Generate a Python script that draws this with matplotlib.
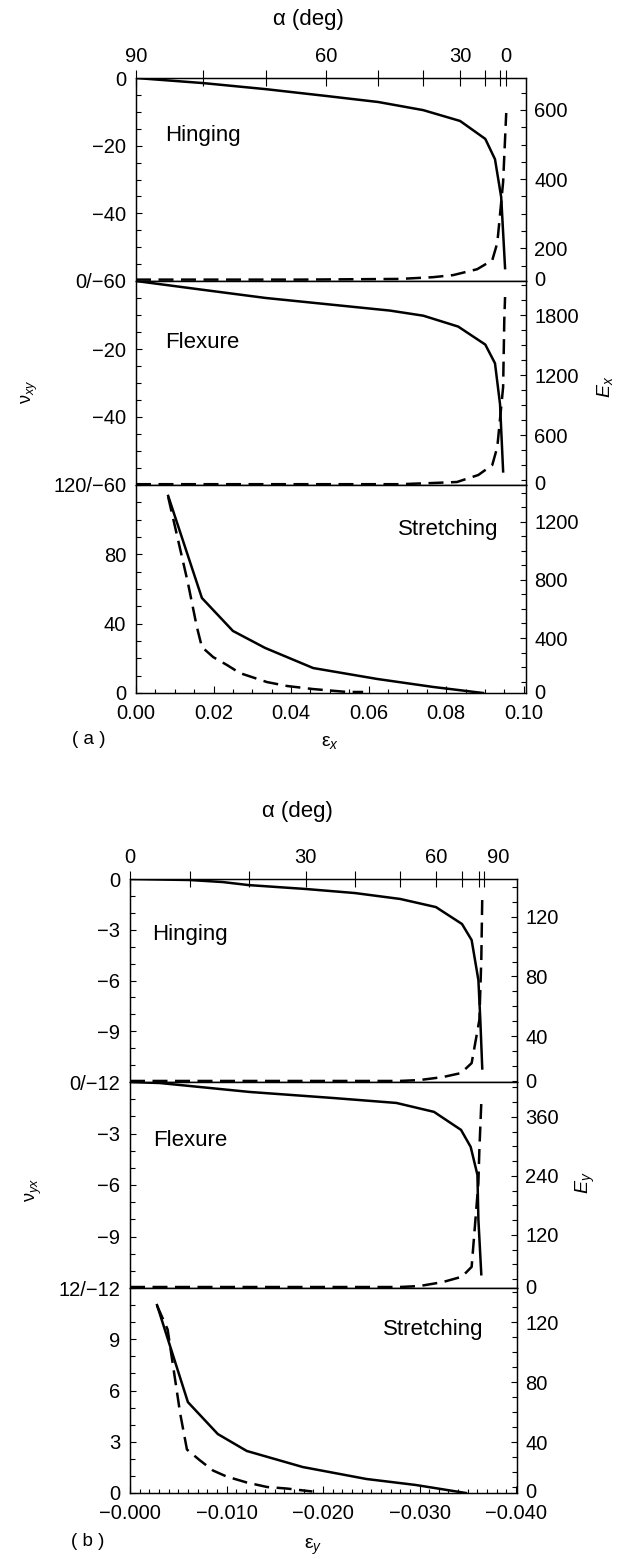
import matplotlib
matplotlib.use('Agg')
import matplotlib.pyplot as plt
import matplotlib.transforms as mtransforms
from matplotlib.ticker import MultipleLocator

plt.rcParams['font.family'] = ['Liberation Sans', 'DejaVu Sans']
plt.rcParams['mathtext.fontset'] = 'custom'
plt.rcParams['mathtext.rm'] = 'Liberation Sans'
plt.rcParams['mathtext.it'] = 'Liberation Sans:italic'

W, H = 625, 1559

# ---------------- data, figure (a) ----------------
a_alpha = [90, 80, 70, 60, 50, 40, 30, 20, 10, 0]
a_alpha_eps = [0.0, 0.0173, 0.0335, 0.0490, 0.0625, 0.0741, 0.0836, 0.0901, 0.0939, 0.0955]

a_hin_eps = [0.0, 0.0173, 0.0335, 0.0490, 0.0625, 0.0741, 0.0836, 0.0901, 0.0926, 0.0942, 0.0952]
a_hin_nu = [0.0, -1.5, -3.3, -5.3, -7.1, -9.5, -12.7, -18.0, -24.0, -35.2, -56.2]
a_hin_E_eps = [0.0, 0.0423, 0.0681, 0.0766, 0.0818, 0.0880, 0.0919, 0.0932, 0.0947, 0.0955]
a_hin_E = [110, 110, 112, 117, 123, 140, 166, 216, 392, 591]

a_flx_eps = [0.0, 0.0173, 0.0335, 0.0508, 0.0655, 0.0741, 0.0831, 0.0901, 0.0926, 0.0939, 0.0947]
a_flx_nu = [0.0, -2.6, -5.0, -7.0, -8.7, -10.2, -13.4, -18.7, -24.2, -36.2, -56.0]
a_flx_E_eps = [0.0, 0.0423, 0.0681, 0.0766, 0.0828, 0.0883, 0.0919, 0.0932, 0.0947, 0.0950, 0.0952]
a_flx_E = [108, 108, 108, 120, 130, 200, 300, 480, 1080, 1750, 1980]

a_str_eps = [0.0083, 0.0170, 0.0250, 0.0333, 0.0457, 0.0622, 0.0766, 0.0895]
a_str_nu = [113.7, 54.8, 35.8, 26.0, 14.4, 8.1, 3.5, 0.0]
a_str_E_eps = [0.0083, 0.0134, 0.0157, 0.0170, 0.0199, 0.0235, 0.0268, 0.0338, 0.0390, 0.0457, 0.0545, 0.0586]
a_str_E = [1370, 778, 476, 338, 269, 214, 159, 97, 70, 49, 29, 29]

# ---------------- data, figure (b) ----------------
b_alpha = [0, 10, 20, 30, 40, 50, 60, 70, 80, 90]
b_alpha_eps = [0.0, -0.0062, -0.0123, -0.0182, -0.0233, -0.0280, -0.0317, -0.0344, -0.0362, -0.0367]

b_hin_eps = [0.0, -0.0062, -0.0096, -0.0123, -0.0182, -0.0233, -0.0280, -0.0317, -0.0344, -0.0354, -0.0361, -0.0363, -0.0365]
b_hin_nu = [0.0, -0.06, -0.18, -0.36, -0.59, -0.83, -1.18, -1.66, -2.66, -3.61, -5.98, -8.34, -11.2]
b_hin_E_eps = [0.0, -0.0176, -0.0279, -0.0300, -0.0324, -0.0343, -0.0354, -0.0362, -0.0364, -0.0365]
b_hin_E = [9.8, 9.8, 9.8, 10.4, 12.4, 15.1, 21.8, 50.8, 91, 133]

b_flx_eps = [0.0, -0.0031, -0.0124, -0.0210, -0.0276, -0.0315, -0.0343, -0.0353, -0.0360, -0.0361, -0.0364]
b_flx_nu = [0.0, -0.06, -0.58, -0.93, -1.22, -1.74, -2.79, -3.78, -5.41, -8.02, -11.2]
b_flx_E_eps = [0.0, -0.0176, -0.0279, -0.0300, -0.0324, -0.0344, -0.0354, -0.0361, -0.0362, -0.0364]
b_flx_E = [14, 14, 14, 16, 24, 35, 55, 226, 293, 388]

b_str_eps = [-0.0028, -0.0060, -0.0091, -0.0121, -0.0179, -0.0245, -0.0296, -0.0348]
b_str_nu = [11.0, 5.32, 3.45, 2.46, 1.52, 0.82, 0.47, 0.0]
b_str_E_eps = [-0.0028, -0.0039, -0.0052, -0.0059, -0.0072, -0.0086, -0.0100, -0.0121, -0.0142, -0.0162, -0.0189]
b_str_E = [131, 115, 59, 35, 28, 21, 17, 13, 10, 9, 7]

FS = 14.5      # tick labels
FT = 16        # panel names
LW = 1.8

fig = plt.figure(figsize=(W / 100, H / 100), dpi=100)


def px(x, y):
    return x / W, 1 - y / H


def make_panel(left, right, top, bottom, xlim, eps, nu, ylim, lticks, llabels, lminor,
               E_eps, E, rlim, rticks, rminor):
    ax = fig.add_axes([left / W, 1 - bottom / H, (right - left) / W, (bottom - top) / H])
    ax.plot(eps, nu, color='k', lw=LW)
    ax.set_xlim(xlim)
    ax.set_ylim(ylim)
    ax.set_yticks(lticks)
    ax.set_yticklabels(llabels)
    ax.yaxis.set_minor_locator(MultipleLocator(lminor))
    ax.tick_params(axis='x', which='both', bottom=False, labelbottom=False)
    ax.tick_params(axis='y', which='major', direction='in', length=4.5, width=0.8,
                   labelsize=FS, pad=7)
    ax.tick_params(axis='y', which='minor', direction='in', length=3.5, width=0.8)

    tw = ax.twinx()
    tw.plot(E_eps, E, color='k', lw=LW, dashes=(6, 3))
    tw.set_ylim(rlim)
    tw.set_yticks(rticks)
    tw.set_yticklabels([str(t) for t in rticks])
    tw.yaxis.set_minor_locator(MultipleLocator(rminor))
    tw.tick_params(axis='y', which='major', direction='in', length=4.5, width=0.8,
                   labelsize=FS, pad=6)
    tw.tick_params(axis='y', which='minor', direction='in', length=3.5, width=0.8)
    tw.annotate('0', xy=(1, 0), xycoords='axes fraction', xytext=(6, 0),
                textcoords='offset points', ha='left', va='center', fontsize=FS)
    for a in (ax, tw):
        for s in a.spines.values():
            s.set_linewidth(0.9)
    return ax


def top_alpha(ax, alpha, alpha_eps, nudge_last=0):
    ax.set_xticks(alpha_eps)
    ax.set_xticklabels([str(a) if a % 30 == 0 else '' for a in alpha])
    ax.tick_params(axis='x', which='major', top=True, labeltop=True, direction='inout',
                   length=12, width=0.8, labelsize=FS, pad=3)
    if nudge_last:
        lab = ax.xaxis.get_major_ticks()[-1].label2
        lab.set_transform(lab.get_transform() +
                          mtransforms.ScaledTranslation(nudge_last / 100, 0, fig.dpi_scale_trans))


def bottom_eps(ax, ticks, labels, minor):
    ax.set_xticks(ticks)
    ax.set_xticklabels(labels)
    ax.xaxis.set_minor_locator(MultipleLocator(minor))
    ax.tick_params(axis='x', which='major', bottom=True, labelbottom=True, direction='in',
                   length=5, width=0.8, labelsize=FS, pad=8)
    ax.tick_params(axis='x', which='minor', bottom=True, direction='in', length=3, width=0.8)


# ---------------- (a) ----------------
xa = (0, 0.1006)
ah = make_panel(136, 526, 78, 281, xa, a_hin_eps, a_hin_nu, (-60, 0),
                [0, -20, -40, -60], ['0', '\u221220', '\u221240', '0/\u221260'], 5,
                a_hin_E_eps, a_hin_E, (106, 692), [200, 400, 600], 50)
af = make_panel(136, 526, 281, 485, xa, a_flx_eps, a_flx_nu, (-60, 0),
                [-20, -40, -60], ['\u221220', '\u221240', '120/\u221260'], 5,
                a_flx_E_eps, a_flx_E, (100, 2140), [600, 1200, 1800], 150)
ast = make_panel(136, 526, 485, 693, xa, a_str_eps, a_str_nu, (0, 120),
                 [0, 40, 80], ['0', '40', '80'], 10,
                 a_str_E_eps, a_str_E, (22, 1452), [400, 800, 1200], 100)
top_alpha(ah, a_alpha, a_alpha_eps)
bottom_eps(ast, [0, 0.02, 0.04, 0.06, 0.08, 0.10],
           ['0.00', '0.02', '0.04', '0.06', '0.08', '0.10'], 0.005)

fig.text(*px(308, 19), '\u03b1 (deg)', ha='center', va='center', fontsize=16)
fig.text(*px(203, 136), 'Hinging', ha='center', va='center', fontsize=FT)
fig.text(*px(202, 343), 'Flexure', ha='center', va='center', fontsize=FT)
fig.text(*px(448, 530), 'Stretching', ha='center', va='center', fontsize=FT)
fig.text(*px(30, 392), r'$\mathrm{\nu}_{xy}$', ha='center', va='center', fontsize=13, rotation=90)
fig.text(*px(605, 387), r'$E_x$', ha='center', va='center', fontsize=14, rotation=90)
fig.text(*px(330, 743), r'$\mathrm{\varepsilon}_x$', ha='center', va='center', fontsize=14)
fig.text(*px(89, 740), '( a )', ha='center', va='center', fontsize=13.5)

# ---------------- (b) ----------------
xb = (0, -0.0401)
bh = make_panel(130, 517, 879, 1082, xb, b_hin_eps, b_hin_nu, (-12, 0),
                [0, -3, -6, -9, -12], ['0', '\u22123', '\u22126', '\u22129', '0/\u221212'], 1,
                b_hin_E_eps, b_hin_E, (9.1, 145.5), [40, 80, 120], 10)
bf = make_panel(130, 517, 1082, 1288, xb, b_flx_eps, b_flx_nu, (-12, 0),
                [-3, -6, -9, -12], ['\u22123', '\u22126', '\u22129', '12/\u221212'], 1,
                b_flx_E_eps, b_flx_E, (12, 431), [120, 240, 360], 30)
bs = make_panel(130, 517, 1288, 1493, xb, b_str_eps, b_str_nu, (0, 12),
                [0, 3, 6, 9], ['0', '3', '6', '9'], 1,
                b_str_E_eps, b_str_E, (6, 142.7), [40, 80, 120], 10)
top_alpha(bh, b_alpha, b_alpha_eps, nudge_last=14)
bottom_eps(bs, [0, -0.01, -0.02, -0.03, -0.04],
           ['\u22120.000', '\u22120.010', '\u22120.020', '\u22120.030', '\u22120.040'], 0.001)

fig.text(*px(297, 812), '\u03b1 (deg)', ha='center', va='center', fontsize=16)
fig.text(*px(190, 934), 'Hinging', ha='center', va='center', fontsize=FT)
fig.text(*px(190, 1140), 'Flexure', ha='center', va='center', fontsize=FT)
fig.text(*px(433, 1330), 'Stretching', ha='center', va='center', fontsize=FT)
fig.text(*px(34, 1190), r'$\mathrm{\nu}_{yx}$', ha='center', va='center', fontsize=13, rotation=90)
fig.text(*px(585, 1183), r'$E_y$', ha='center', va='center', fontsize=14, rotation=90)
fig.text(*px(313, 1547), r'$\mathrm{\varepsilon}_y$', ha='center', va='center', fontsize=14)
fig.text(*px(88, 1541), '( b )', ha='center', va='center', fontsize=13.5)

fig.savefig('out.png', dpi=100)
